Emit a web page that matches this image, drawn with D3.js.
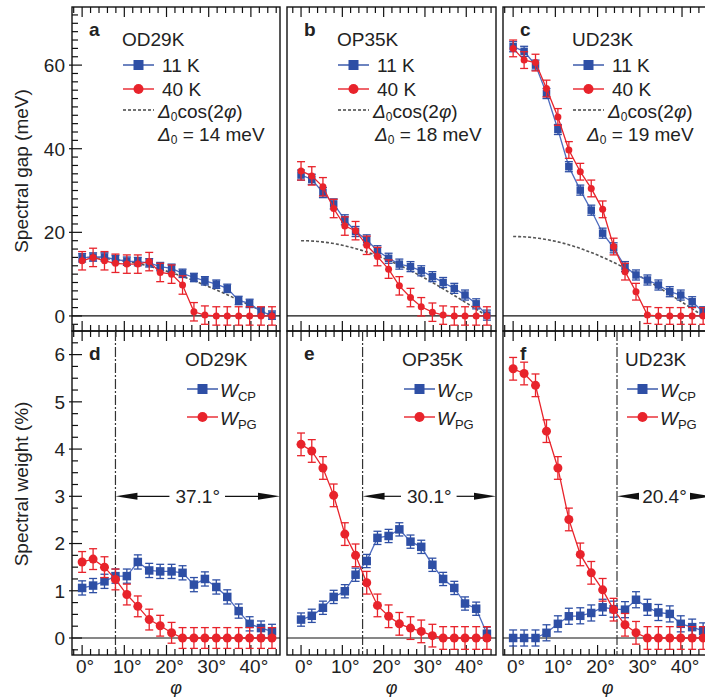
<!DOCTYPE html>
<html>
<head>
<meta charset="utf-8">
<script src="https://cdn.jsdelivr.net/npm/d3@7"></script>
<style>
  body { margin: 0; background: #fff; }
  svg text { font-family: "Liberation Sans", Arial, Helvetica, sans-serif; fill: #222; }
</style>
</head>
<body>
<svg id="chart" width="705" height="697"></svg>
<script>
// ---- data ----
const phi = [0, 2.6, 5.3, 7.9, 10.6, 13.2, 15.9, 18.5, 21.2, 23.8, 26.5, 29.1, 31.8, 34.4, 37.1, 39.7, 42.4, 45.0];
const samples = ["OD29K", "OP35K", "UD23K"];
const panelLetters = [["a", "b", "c"], ["d", "e", "f"]];

// spectral gap (meV), 11 K and 40 K
const gap11K = [
  [13.9, 14.1, 14.1, 13.5, 13.1, 13.0, 12.7, 11.8, 11.4, 10.2, 9.2, 8.4, 7.6, 6.6, 3.7, 3.0, 1.0, 0.2],
  [33.7, 32.7, 29.5, 26.8, 23.0, 20.2, 18.2, 15.6, 13.8, 12.4, 11.8, 10.8, 9.4, 8.0, 6.6, 5.0, 2.9, 0.2],
  [64.4, 63.3, 60.0, 53.2, 44.6, 35.7, 30.1, 25.3, 19.8, 16.3, 11.8, 9.8, 8.6, 7.4, 5.8, 5.0, 3.4, 1.0]
];
const gap40K = [
  [13.2, 14.0, 13.2, 12.6, 12.4, 12.4, 13.0, 10.4, 10.0, 7.4, 1.0, 0.2, 0, 0, 0, 0, 0, 0],
  [34.7, 33.5, 30.9, 25.7, 21.5, 20.4, 16.9, 14.2, 11.2, 7.2, 4.4, 2.2, 0.9, 0.2, 0, 0, 0, 0],
  [64.0, 61.2, 60.6, 54.4, 47.6, 39.7, 34.5, 30.5, 25.5, 16.6, 10.6, 5.8, 0.2, 0, 0, 0, 0, 0]
];
const gapErr11K = [1.0, 1.2, 1.2];
const gapErr40K = [2.2, 2.2, 2.0];
const delta0 = [14, 18, 19];

// spectral weight (%)
const wCP = [
  [1.06, 1.11, 1.20, 1.31, 1.31, 1.61, 1.43, 1.41, 1.41, 1.38, 1.13, 1.25, 1.08, 0.87, 0.57, 0.30, 0.21, 0.14],
  [0.39, 0.47, 0.64, 0.87, 0.99, 1.34, 1.63, 2.12, 2.16, 2.30, 2.04, 1.93, 1.55, 1.25, 1.06, 0.73, 0.62, 0.09],
  [0, 0, 0, 0.11, 0.30, 0.46, 0.47, 0.53, 0.65, 0.61, 0.60, 0.81, 0.65, 0.54, 0.51, 0.30, 0.23, 0.15]
];
const wPG = [
  [1.61, 1.67, 1.50, 1.24, 0.92, 0.67, 0.39, 0.26, 0.11, 0, 0, 0, 0, 0, 0, 0, 0, 0],
  [4.10, 3.96, 3.60, 3.02, 2.20, 1.75, 1.17, 0.69, 0.46, 0.30, 0.21, 0.14, 0.05, 0, 0, 0, 0, 0],
  [5.70, 5.60, 5.35, 4.38, 3.60, 2.51, 1.77, 1.38, 1.02, 0.60, 0.28, 0.11, 0, 0, 0, 0, 0, 0]
];
const wCPErr = [0.15, 0.14, 0.17];
const wPGErr = [0.22, 0.24, 0.24];
const arcWidth = [37.1, 30.1, 20.4];   // degrees from the dash-dot line to 45°

const xTicks = [0, 10, 20, 30, 40];
const gapTicks = [0, 20, 40, 60];
const weightTicks = [0, 1, 2, 3, 4, 5, 6];

// ---- layout ----
const blue = "#2e4fa5", blueLine = "#4d6bbf", red = "#e8232b";
const colX = [[72, 280], [287, 496], [503, 712]];
const rowY = [[7, 331], [331, 655]];
const xDomains = [[-2.4, 46.9], [-3.4, 47.2], [-2.4, 47.1]];
const font = 19;

const svg = d3.select("#chart");

const yGap = d3.scaleLinear().domain([-3.6, 73.9]).range([rowY[0][1], rowY[0][0]]);
const yW = d3.scaleLinear().domain([-0.36, 6.5]).range([rowY[1][1], rowY[1][0]]);

function frameAndTicks(g, x, y, x0, x1, y0, y1, showY, yMajor, yMinorStep) {
  // x ticks on top and bottom, pointing inward
  const minorX = d3.range(-2, 47, 2);
  minorX.forEach(v => {
    const px = x(v);
    if (px <= x0 + 1 || px >= x1 - 1) return;
    const len = v % 10 === 0 ? 10 : 6;
    g.append("line").attr("x1", px).attr("x2", px).attr("y1", y0).attr("y2", y0 + len)
      .attr("stroke", "#111").attr("stroke-width", 1.2);
    g.append("line").attr("x1", px).attr("x2", px).attr("y1", y1).attr("y2", y1 - len)
      .attr("stroke", "#111").attr("stroke-width", 1.2);
  });
  if (showY) {
    const dom = y.domain();
    const minor = d3.range(Math.ceil(dom[0] / yMinorStep) * yMinorStep, dom[1], yMinorStep);
    minor.forEach(v => {
      const major = yMajor.some(m => Math.abs(m - v) < 1e-6);
      g.append("line").attr("x1", x0 - (major ? 3 : 0)).attr("x2", x0 + (major ? 10 : 6))
        .attr("y1", y(v)).attr("y2", y(v)).attr("stroke", "#111").attr("stroke-width", 1.2);
    });
    g.selectAll(null).data(yMajor).enter().append("text")
      .attr("x", x0 - 7).attr("y", d => y(d)).attr("dy", "0.36em")
      .attr("text-anchor", "end").style("font-size", font + "px").text(d => d);
  }
  // zero line
  g.append("line").attr("x1", x0).attr("x2", x1).attr("y1", y(0)).attr("y2", y(0))
    .attr("stroke", "#111").attr("stroke-width", 1.2);
  g.append("rect").attr("x", x0).attr("y", y0).attr("width", x1 - x0).attr("height", y1 - y0)
    .attr("fill", "none").attr("stroke", "#111").attr("stroke-width", 1.4);
}

function series(g, x, y, vals, err, color, lineColor, shape, size) {
  const line = d3.line().x((d, i) => x(phi[i])).y(d => y(d));
  g.append("path").datum(vals).attr("d", line).attr("fill", "none")
    .attr("stroke", lineColor).attr("stroke-width", 1.3);
  const pts = g.selectAll(null).data(vals).enter().append("g")
    .attr("transform", (d, i) => `translate(${x(phi[i])},${y(d)})`);
  pts.append("line").attr("x1", 0).attr("x2", 0)
    .attr("y1", d => y(d - err) - y(d)).attr("y2", d => y(d + err) - y(d))
    .attr("stroke", color).attr("stroke-width", 1.3);
  [-1, 1].forEach(s => {
    pts.append("line").attr("x1", -4).attr("x2", 4)
      .attr("y1", d => (s < 0 ? y(d - err) : y(d + err)) - y(d))
      .attr("y2", d => (s < 0 ? y(d - err) : y(d + err)) - y(d))
      .attr("stroke", color).attr("stroke-width", 1.3);
  });
  marker(pts, shape, size, color);
}

function marker(sel, shape, size, color) {
  if (shape === "square") {
    sel.append("rect").attr("x", -size / 2).attr("y", -size / 2)
      .attr("width", size).attr("height", size).attr("fill", color);
  } else {
    sel.append("circle").attr("r", size / 2).attr("fill", color);
  }
}

function legendRow(g, lx, ly, color, shape, size, dashed) {
  g.append("line").attr("x1", lx).attr("x2", lx + 31).attr("y1", ly).attr("y2", ly)
    .attr("stroke", dashed ? "#444" : color).attr("stroke-width", dashed ? 1.5 : 1.4)
    .attr("stroke-dasharray", dashed ? "3,2" : null);
  if (!dashed) marker(g.append("g").attr("transform", `translate(${lx + 15.5},${ly})`), shape, size, color);
}

const topLegendDx = [50, 50, 69];
const deltaDx = [86, 88, 84];
const botLegendDx = [113, 115, 122];

for (let c = 0; c < 3; c++) {
  const [x0, x1] = colX[c];
  const x = d3.scaleLinear().domain(xDomains[c]).range([x0, x1]);

  // ---------- top row: spectral gap ----------
  const gt = svg.append("g");
  frameAndTicks(gt, x, yGap, x0, x1, rowY[0][0], rowY[0][1], c === 0, gapTicks, 2);

  const curve = d3.range(0, 45.01, 0.5);
  gt.append("path").datum(curve)
    .attr("d", d3.line().x(d => x(d)).y(d => yGap(delta0[c] * Math.cos(2 * d * Math.PI / 180))))
    .attr("fill", "none").attr("stroke", "#555").attr("stroke-width", 1.6).attr("stroke-dasharray", "3,2");

  series(gt, x, yGap, gap11K[c], gapErr11K[c], blue, blueLine, "square", 7.5);
  series(gt, x, yGap, gap40K[c], gapErr40K[c], red, red, "circle", 7);

  gt.append("text").attr("x", x0 + 17).attr("y", rowY[0][0] + 29)
    .style("font-size", font + "px").style("font-weight", "bold").text(panelLetters[0][c]);

  const lx = x0 + topLegendDx[c];
  gt.append("text").attr("x", lx).attr("y", 46).style("font-size", font + "px").text(samples[c]);
  legendRow(gt, lx + 1, 65, blue, "square", 10);
  gt.append("text").attr("x", lx + 40).attr("y", 72).style("font-size", font + "px").text("11 K");
  legendRow(gt, lx + 1, 89, red, "circle", 10);
  gt.append("text").attr("x", lx + 40).attr("y", 96).style("font-size", font + "px").text("40 K");
  legendRow(gt, lx + 1, 110, "#444", null, 0, true);
  const t1 = gt.append("text").attr("x", lx + 36).attr("y", 118).style("font-size", font + "px");
  t1.append("tspan").style("font-style", "italic").text("Δ");
  t1.append("tspan").attr("dy", 3).style("font-size", "12px").text("0");
  t1.append("tspan").attr("dy", -3).text("cos(2");
  t1.append("tspan").style("font-style", "italic").text("φ");
  t1.append("tspan").text(")");
  const t2 = gt.append("text").attr("x", x0 + deltaDx[c]).attr("y", 141).style("font-size", font + "px");
  t2.append("tspan").style("font-style", "italic").text("Δ");
  t2.append("tspan").attr("dy", 3).style("font-size", "12px").text("0");
  t2.append("tspan").attr("dy", -3).text(` = ${delta0[c]} meV`);

  // ---------- bottom row: spectral weight ----------
  const gb = svg.append("g");
  frameAndTicks(gb, x, yW, x0, x1, rowY[1][0], rowY[1][1], c === 0, weightTicks, 0.25);

  // dash-dot boundary and arc-width annotation
  const start = 45 - arcWidth[c];
  gb.append("line").attr("x1", x(start)).attr("x2", x(start))
    .attr("y1", rowY[1][0]).attr("y2", rowY[1][1])
    .attr("stroke", "#333").attr("stroke-width", 1.2).attr("stroke-dasharray", "10,2,2,2");

  series(gb, x, yW, wCP[c], wCPErr[c], blue, blueLine, "square", 8.5);
  series(gb, x, yW, wPG[c], wPGErr[c], red, red, "circle", 9);

  const ay = yW(3);
  const mid = (x(start) + x1) / 2;
  const lbl = gb.append("text").attr("x", mid).attr("y", ay + 7).attr("text-anchor", "middle")
    .style("font-size", font + "px").text(arcWidth[c].toFixed(1) + "°");
  const half = lbl.node().getComputedTextLength() / 2;
  gb.append("line").attr("x1", x(start) + 18).attr("x2", mid - half - 6).attr("y1", ay).attr("y2", ay)
    .attr("stroke", "#111").attr("stroke-width", 1.2);
  gb.append("line").attr("x1", mid + half + 5).attr("x2", x1 - 18).attr("y1", ay).attr("y2", ay)
    .attr("stroke", "#111").attr("stroke-width", 1.2);
  gb.append("path").attr("d", `M${x(start)},${ay}L${x(start) + 22},${ay - 3.5}L${x(start) + 22},${ay + 3.5}Z`).attr("fill", "#111");
  gb.append("path").attr("d", `M${x1},${ay}L${x1 - 22},${ay - 3.5}L${x1 - 22},${ay + 3.5}Z`).attr("fill", "#111");

  gb.append("text").attr("x", x0 + 17).attr("y", rowY[1][0] + 29)
    .style("font-size", font + "px").style("font-weight", "bold").text(panelLetters[1][c]);

  const bx = x0 + botLegendDx[c];
  gb.append("text").attr("x", bx).attr("y", 366).style("font-size", font + "px").text(samples[c]);
  legendRow(gb, bx + 2, 389, blue, "square", 10);
  legendRow(gb, bx + 2, 417, red, "circle", 10);
  [["CP", 397], ["PG", 425]].forEach(([sub, by]) => {
    const t = gb.append("text").attr("x", bx + 35).attr("y", by).style("font-size", font + "px");
    t.append("tspan").style("font-style", "italic").text("W");
    t.append("tspan").attr("dy", 4).style("font-size", "13px").text(sub);
  });

  // x tick labels and axis title
  gb.selectAll(null).data(xTicks).enter().append("text")
    .attr("x", d => x(d) + 3).attr("y", 673).attr("text-anchor", "middle")
    .style("font-size", font + "px").text(d => d + "°");
  gb.append("text").attr("x", (x0 + x1) / 2).attr("y", 694).attr("text-anchor", "middle")
    .style("font-size", "18px").style("font-style", "italic").text("φ");
}

// y-axis titles
svg.append("text").attr("transform", "translate(28,171) rotate(-90)").attr("text-anchor", "middle")
  .style("font-size", font + "px").text("Spectral gap (meV)");
svg.append("text").attr("transform", "translate(28,484) rotate(-90)").attr("text-anchor", "middle")
  .style("font-size", font + "px").text("Spectral weight (%)");
</script>
</body>
</html>
